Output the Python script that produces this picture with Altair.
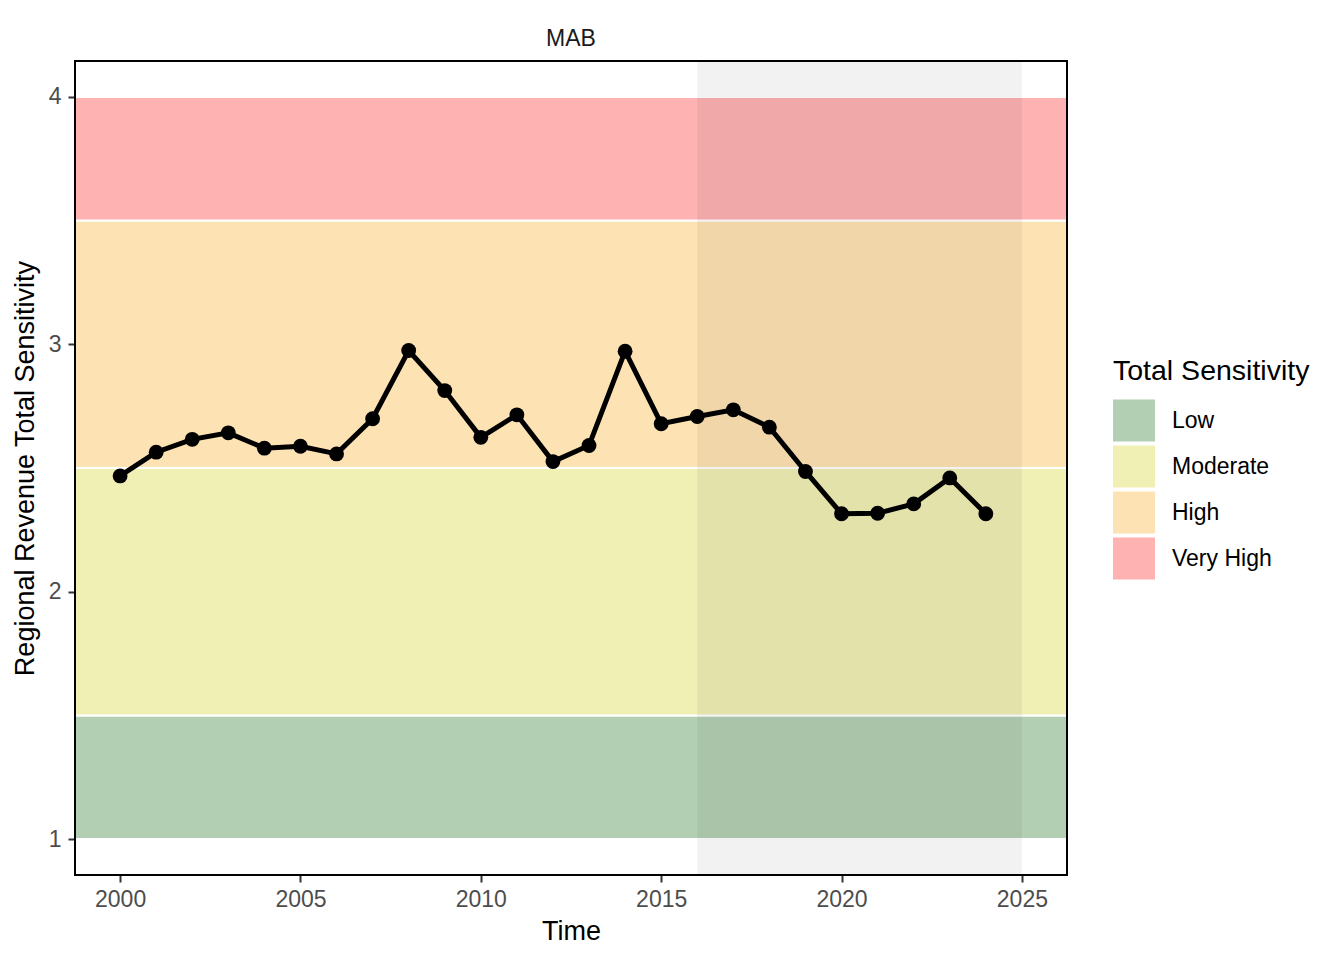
import altair as alt
import pandas as pd

# ---- data ----
years = list(range(2000, 2025))
values = [2.468, 2.564, 2.616, 2.642, 2.580, 2.588, 2.557, 2.699, 2.975, 2.813,
          2.624, 2.715, 2.526, 2.591, 2.972, 2.679, 2.708, 2.735, 2.665, 2.486,
          2.315, 2.317, 2.355, 2.460, 2.315]

band_names = ["Low", "Moderate", "High", "Very High"]
band_lo = [1.0, 1.5, 2.5, 3.5]
band_hi = [1.5, 2.5, 3.5, 4.0]
band_colors = ["#b3cfb3", "#f0efb4", "#fde2b3", "#feb2b2"]

shade_start = [2016]
shade_end = [2025]

region = "MAB"
x_ticks = [2000, 2005, 2010, 2015, 2020, 2025]
y_ticks = [1, 2, 3, 4]

FONT = "Liberation Sans"

series = pd.DataFrame({"Time": years, "Value": values})
bands = pd.DataFrame({"Sensitivity": band_names, "lo": band_lo, "hi": band_hi})
shade = pd.DataFrame({"start": shade_start, "end": shade_end})
frame = pd.DataFrame({"k": [0]})

xscale = alt.Scale(domain=[1998.75, 2026.25], nice=False, zero=False)
yscale = alt.Scale(domain=[0.855, 4.145], nice=False, zero=False)

xaxis = alt.Axis(values=x_ticks, format="d", title="Time", grid=False, domain=False,
                 tickSize=7, tickWidth=2, tickColor="#333333",
                 labelFontSize=23, labelColor="#4d4d4d", labelPadding=6,
                 titleFontSize=27, titleColor="#000000", titleFontWeight="normal",
                 titlePadding=7, labelFlush=False)
yaxis = alt.Axis(values=y_ticks, format="d", title="Regional Revenue Total Sensitivity",
                 grid=False, domain=False,
                 tickSize=7, tickWidth=2, tickColor="#333333",
                 labelFontSize=23, labelColor="#4d4d4d", labelPadding=7,
                 titleFontSize=27, titleColor="#000000", titleFontWeight="normal",
                 titlePadding=9)

band_layer = alt.Chart(bands).mark_rect(stroke="white", strokeWidth=2, opacity=1).encode(
    x=alt.value(0),
    x2=alt.value("width"),
    y=alt.Y("lo:Q", scale=yscale, axis=yaxis),
    y2="hi:Q",
    color=alt.Color(
        "Sensitivity:N",
        scale=alt.Scale(domain=band_names, range=band_colors),
        legend=alt.Legend(
            orient="none", legendX=1038, legendY=296,
            title="Total Sensitivity", titleFontSize=28.5, titleFontWeight="normal",
            titleColor="#000000", titlePadding=14, titleLimit=400,
            labelFontSize=23, labelColor="#000000", labelOffset=17, labelLimit=300,
            symbolType="square", symbolSize=1764, symbolStrokeWidth=0,
            symbolOpacity=1, rowPadding=4,
        ),
    ),
)

shade_layer = alt.Chart(shade).mark_rect(color="#000000", opacity=0.05).encode(
    x=alt.X("start:Q", scale=xscale, axis=xaxis),
    x2="end:Q",
    y=alt.value(0),
    y2=alt.value("height"),
)

line_layer = alt.Chart(series).mark_line(color="black", strokeWidth=5).encode(
    x=alt.X("Time:Q", scale=xscale),
    y=alt.Y("Value:Q", scale=yscale),
)

point_layer = alt.Chart(series).mark_circle(color="black", size=220, opacity=1).encode(
    x=alt.X("Time:Q", scale=xscale),
    y=alt.Y("Value:Q", scale=yscale),
)

border_layer = alt.Chart(frame).mark_rect(fillOpacity=0, stroke="black", strokeWidth=2).encode(
    x=alt.value(0), x2=alt.value("width"), y=alt.value(0), y2=alt.value("height"),
)

chart = alt.layer(band_layer, shade_layer, line_layer, point_layer, border_layer).properties(
    width=992, height=814,
    title=alt.TitleParams(region, fontSize=23, font=FONT, fontWeight="normal",
                          color="#1a1a1a", offset=9, anchor="middle"),
    padding={"left": 67, "top": 53, "right": 260, "bottom": 70},
    autosize=alt.AutoSizeParams(type="none"),
).configure(font=FONT).configure_view(stroke=None).configure_axis(
    labelFont=FONT, titleFont=FONT
).configure_legend(labelFont=FONT, titleFont=FONT)

chart.save("out.html", embed_options={"renderer": "svg", "actions": False})
